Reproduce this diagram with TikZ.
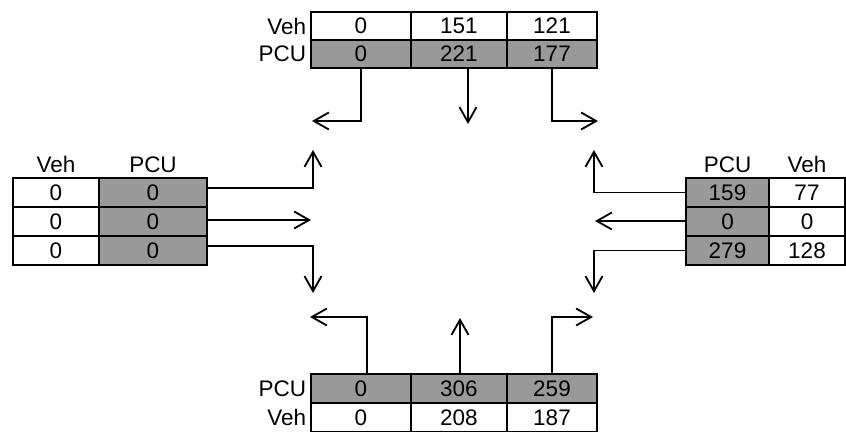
\documentclass[tikz,border=0pt]{standalone}
\usepackage{fontspec}
\setmainfont{Liberation Sans}
\usetikzlibrary{arrows.meta,positioning}
\definecolor{pcugray}{RGB}{153,153,153}

\begin{document}
\begin{tikzpicture}[
    x=0.02cm, y=-0.02cm,
    cell/.style={draw, rectangle, line width=1.1pt, inner sep=0pt, minimum height=0.58cm, font=\fontsize{12.8}{14}\selectfont, fill=white},
    pcu/.style={cell, fill=pcugray},
    lbl/.style={inner sep=2pt, font=\fontsize{12.8}{14}\selectfont},
    flow/.style={line width=1.05pt, -{Straight Barb[length=3mm, width=3.4mm]}},
]
\useasboundingbox (0,0) rectangle (846,432);

% --- north approach ---
\node[cell, minimum width=2cm, minimum height=0.56cm] (t11) at (361,26) {0};
\node[cell, minimum width=1.92cm, minimum height=0.56cm] (t12) at (459,26) {151};
\node[cell, minimum width=1.8cm, minimum height=0.56cm] (t13) at (552,26) {121};
\node[pcu, minimum width=2cm, minimum height=0.56cm] (t21) at (361,54) {0};
\node[pcu, minimum width=1.92cm, minimum height=0.56cm] (t22) at (459,54) {221};
\node[pcu, minimum width=1.8cm, minimum height=0.56cm] (t23) at (552,54) {177};
\node[lbl, left=0pt of t11] {Veh};
\node[lbl, left=0pt of t21] {PCU};

% --- west approach ---
\node[cell, minimum width=1.72cm] (l11) at (56,192.5) {0};
\node[pcu, minimum width=2.16cm] (l12) at (153,192.5) {0};
\node[cell, minimum width=1.72cm] (l21) at (56,221.5) {0};
\node[pcu, minimum width=2.16cm] (l22) at (153,221.5) {0};
\node[cell, minimum width=1.72cm] (l31) at (56,250.5) {0};
\node[pcu, minimum width=2.16cm] (l32) at (153,250.5) {0};
\node[lbl, above=0pt of l11] {Veh};
\node[lbl, above=0pt of l12] {PCU};

% --- east approach ---
\node[pcu, minimum width=1.66cm] (r11) at (727.5,192.5) {159};
\node[cell, minimum width=1.52cm] (r12) at (807,192.5) {77};
\node[pcu, minimum width=1.66cm] (r21) at (727.5,221.5) {0};
\node[cell, minimum width=1.52cm] (r22) at (807,221.5) {0};
\node[pcu, minimum width=1.66cm] (r31) at (727.5,250.5) {279};
\node[cell, minimum width=1.52cm] (r32) at (807,250.5) {128};
\node[lbl, above=0pt of r11] {PCU};
\node[lbl, above=0pt of r12] {Veh};

% --- south approach ---
\node[pcu, minimum width=2cm] (b11) at (361,388.5) {0};
\node[pcu, minimum width=1.92cm] (b12) at (459,388.5) {306};
\node[pcu, minimum width=1.8cm] (b13) at (552,388.5) {259};
\node[cell, minimum width=2cm] (b21) at (361,417.5) {0};
\node[cell, minimum width=1.92cm] (b22) at (459,417.5) {208};
\node[cell, minimum width=1.8cm] (b23) at (552,417.5) {187};
\node[lbl, left=0pt of b11] {PCU};
\node[lbl, left=0pt of b21] {Veh};

% --- turning movements ---
\coordinate (tl) at (312,121);
\coordinate (tm) at (468,124);
\coordinate (tr) at (598,121);
\draw[flow] (t21.south) |- (tl);
\draw[flow] (t22.south -| tm) -- (tm);
\draw[flow] (t23.south) |- (tr);

\coordinate (lu) at (313,150);
\coordinate (lm) at (311,220);
\coordinate (ld) at (313,293);
\draw[flow] ([yshift=0.09cm]l12.east) -| (lu);
\draw[flow] (lm -| l22.east) -- (lm);
\draw[flow] ([yshift=0.09cm]l32.east) -| (ld);

\coordinate (ru) at (594,150);
\coordinate (rm) at (595,221);
\coordinate (rd) at (594,293);
\draw[flow] (r11.west) -| (ru);
\draw[flow] (rm -| r21.west) -- (rm);
\draw[flow] (r31.west) -| (rd);

\coordinate (bl) at (310,317);
\coordinate (bm) at (460,318);
\coordinate (br) at (593,317);
\draw[flow] ([xshift=0.12cm]b11.north) |- (bl);
\draw[flow] (bm |- b12.north) -- (bm);
\draw[flow] (b13.north) |- (br);
\end{tikzpicture}
\end{document}
